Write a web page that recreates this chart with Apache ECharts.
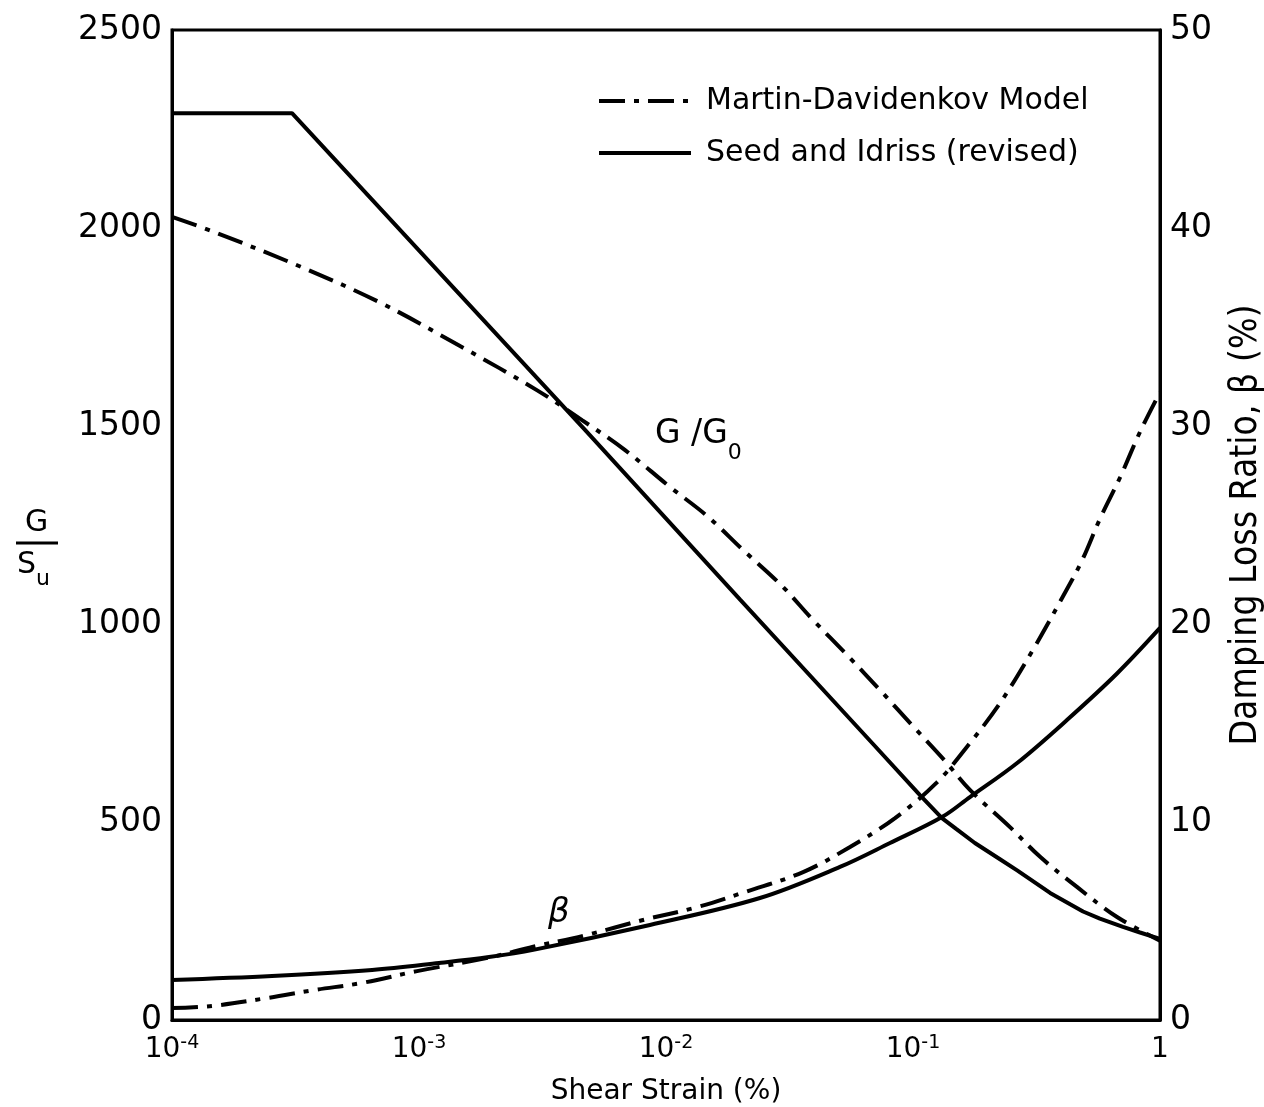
<!DOCTYPE html>
<html>
<head>
<meta charset="utf-8">
<script src="https://cdn.jsdelivr.net/npm/echarts@6/dist/echarts.min.js"></script>
<style>
  html, body { margin: 0; padding: 0; background: #fff; }
  #chart { width: 1264px; height: 1107px; }
</style>
</head>
<body>
<div id="chart"></div>
<script>
// shear strain (%) and values
const strainMdG = [1e-4, 1.452e-4, 3.266e-4, 6.89e-4, 1.466e-3, 3.01e-3, 4.57e-3, 6.83e-3, 0.01038, 0.01466, 0.0205, 0.0295, 0.039, 0.0556, 0.0748, 0.1, 0.1336, 0.17, 0.247, 0.327, 0.461, 0.67, 1];
const mdG = [2028, 1992, 1904, 1813, 1702, 1590, 1515, 1439, 1346, 1273, 1187, 1096, 1013, 914, 828, 742, 657, 581, 487, 412, 336, 260, 200];

const strainSiG = [1e-4, 3.06e-4, 4.70e-3, 0.02, 0.0689, 0.1067, 0.131, 0.15, 0.178, 0.225, 0.264, 0.359, 0.488, 0.571, 0.708, 0.83, 1];
const siG = [2290, 2290, 1490, 1061, 697, 568, 510, 482, 447, 406, 378, 321, 274, 256, 235, 221, 205];

const strainMdB = [1e-4, 1.452e-4, 2.43e-4, 3.79e-4, 5.87e-4, 9.82e-4, 1.92e-3, 2.9e-3, 4.79e-3, 8.07e-3, 0.01336, 0.0213, 0.0359, 0.0556, 0.0846, 0.125, 0.1655, 0.225, 0.306, 0.405, 0.483, 0.571, 0.689, 0.83, 1];
const mdB = [0.6, 0.71, 1.11, 1.52, 1.87, 2.47, 3.15, 3.7, 4.3, 5.05, 5.7, 6.5, 7.47, 8.74, 10.2, 12.0, 13.8, 16.0, 18.7, 21.4, 23.2, 25.3, 27.4, 29.7, 31.7];

const strainSiB = [1e-4, 2.54e-4, 6.46e-4, 1.205e-3, 1.92e-3, 2.9e-3, 8.61e-3, 0.024, 0.0506, 0.0807, 0.131, 0.17, 0.264, 0.42, 0.67, 1];
const siB = [2.02, 2.22, 2.53, 2.88, 3.18, 3.54, 4.8, 6.16, 7.73, 8.94, 10.25, 11.26, 12.98, 15.15, 17.5, 19.8];

const leftTicks = [0, 500, 1000, 1500, 2000, 2500];
const rightTicks = [0, 10, 20, 30, 40, 50];

const MD = 'Martin-Davidenkov Model';
const SI = 'Seed and Idriss (revised)';
const dashDot = [26, 9, 5, 9];

function pairs(xs, ys) {
  return xs.map((x, i) => [x, ys[i]]);
}

const chart = echarts.init(document.getElementById('chart'));

const option = {
  animation: false,
  backgroundColor: '#fff',
  color: ['#000'],
  textStyle: { fontFamily: 'DejaVu Sans', color: '#000' },
  grid: {
    left: 172, right: 104, top: 30, bottom: 87,
    outerBoundsMode: 'none',
    containLabel: false,
    show: true, borderColor: '#000', borderWidth: 3
  },
  legend: {
    orient: 'vertical',
    left: 597, top: 86, padding: 0,
    itemWidth: 92, itemHeight: 14, itemGap: 22,
    data: [MD, SI],
    itemStyle: { opacity: 0 },
    lineStyle: { width: 4, color: '#000' },
    textStyle: { fontSize: 30, color: '#000', padding: [0, 0, 0, 10], fontFamily: 'DejaVu Sans' }
  },
  xAxis: {
    type: 'log', logBase: 10, min: 1e-4, max: 1,
    name: 'Shear Strain (%)', nameLocation: 'middle', nameGap: 58,
    nameTextStyle: { fontSize: 28, fontFamily: 'DejaVu Sans', color: '#000' },
    axisLine: { lineStyle: { color: '#000', width: 3 } },
    axisTick: { show: false },
    splitLine: { show: false },
    axisLabel: {
      margin: 14, color: '#000',
      formatter: v => {
        const e = Math.round(Math.log10(v));
        return e === 0 ? '{b|1}' : '{b|10}{e|' + e + '}';
      },
      rich: {
        b: { fontSize: 28, fontFamily: 'DejaVu Sans', lineHeight: 32 },
        e: { fontSize: 19, fontFamily: 'DejaVu Sans', verticalAlign: 'top', lineHeight: 32 }
      }
    }
  },
  yAxis: [
    {
      type: 'value', min: leftTicks[0], max: leftTicks[leftTicks.length - 1], interval: 500,
      axisLine: { show: true, lineStyle: { color: '#000', width: 3 } },
      axisTick: { show: false },
      splitLine: { show: false },
      axisLabel: { fontSize: 33, color: '#000', margin: 10, fontFamily: 'DejaVu Sans', formatter: v => String(v) }
    },
    {
      type: 'value', min: rightTicks[0], max: rightTicks[rightTicks.length - 1], interval: 10,
      position: 'right',
      name: 'Damping Loss Ratio, β (%)', nameLocation: 'middle', nameRotate: 90, nameGap: 68,
      nameTextStyle: { fontSize: 37, fontFamily: 'DejaVu Sans Condensed', color: '#000' },
      axisLine: { show: true, lineStyle: { color: '#000', width: 3 } },
      axisTick: { show: false },
      splitLine: { show: false },
      axisLabel: { fontSize: 33, color: '#000', margin: 10, fontFamily: 'DejaVu Sans', formatter: v => String(v) }
    }
  ],
  graphic: [
    { type: 'text', left: 25, top: 508, style: { text: 'G', fontSize: 30, fill: '#000', fontFamily: 'DejaVu Sans' } },
    { type: 'line', shape: { x1: 16, y1: 543, x2: 58, y2: 543 }, style: { stroke: '#000', lineWidth: 3 } },
    { type: 'text', left: 17, top: 550, style: {
      text: '{s|S}{u|u}', fill: '#000',
      rich: {
        s: { fontSize: 30, fontFamily: 'DejaVu Sans', lineHeight: 40, verticalAlign: 'top' },
        u: { fontSize: 22, fontFamily: 'DejaVu Sans', lineHeight: 40, verticalAlign: 'bottom' }
      }
    } },
    { type: 'text', left: 655, top: 418, style: {
      text: '{g|G /G}{o|0}', fill: '#000',
      rich: {
        g: { fontSize: 33, fontFamily: 'DejaVu Sans', lineHeight: 46, verticalAlign: 'top' },
        o: { fontSize: 22, fontFamily: 'DejaVu Sans', lineHeight: 46, verticalAlign: 'bottom' }
      }
    } },
    { type: 'text', left: 548, top: 896, style: { text: 'β', fontSize: 34, fontStyle: 'italic', fill: '#000', fontFamily: 'DejaVu Sans' } }
  ],
  series: [
    {
      name: MD, type: 'line', yAxisIndex: 0, data: pairs(strainMdG, mdG),
      showSymbol: false, symbol: 'none', smooth: 0.35,
      itemStyle: { color: '#000' },
      lineStyle: { color: '#000', width: 4, type: dashDot }
    },
    {
      name: SI, type: 'line', yAxisIndex: 0, data: pairs(strainSiG, siG),
      showSymbol: false, symbol: 'none', smooth: false,
      itemStyle: { color: '#000' },
      lineStyle: { color: '#000', width: 4, type: 'solid' }
    },
    {
      name: MD, type: 'line', yAxisIndex: 1, data: pairs(strainMdB, mdB),
      showSymbol: false, symbol: 'none', smooth: 0.35,
      itemStyle: { color: '#000' },
      lineStyle: { color: '#000', width: 4, type: dashDot }
    },
    {
      name: SI, type: 'line', yAxisIndex: 1, data: pairs(strainSiB, siB),
      showSymbol: false, symbol: 'none', smooth: 0.35,
      itemStyle: { color: '#000' },
      lineStyle: { color: '#000', width: 4, type: 'solid' }
    }
  ]
};

chart.setOption(option);
</script>
</body>
</html>
